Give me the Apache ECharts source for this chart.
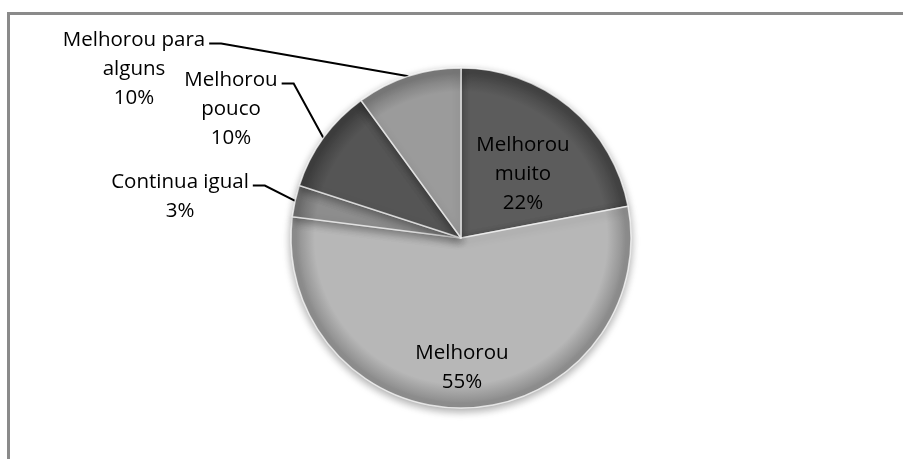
<!DOCTYPE html>
<html>
<head>
<meta charset="utf-8">
<script src="https://cdn.jsdelivr.net/npm/echarts@6/dist/echarts.min.js"></script>
<style>
  html, body { margin: 0; padding: 0; background: #fff; }
  #chart { width: 903px; height: 459px; }
</style>
</head>
<body>
<div id="chart"></div>
<script>
// categories and shares, clockwise from 12 o'clock
const categories = ['Melhorou muito', 'Melhorou', 'Continua igual', 'Melhorou pouco', 'Melhorou para alguns']
const labelTexts = ['Melhorou\nmuito', 'Melhorou', 'Continua igual', 'Melhorou\npouco', 'Melhorou para\nalguns']
const shares = [22, 55, 3, 10, 10]

// look
const sliceColors = ['#5c5c5c', '#b7b7b7', '#8d8d8d', '#555555', '#9b9b9b']
const rimColors = ['#444444', '#8e8e8e', '#6c6c6c', '#3e3e3e', '#7a7a7a']
const insideLabel = [true, true, false, false, false]
// label anchors: center x, top y
const labelAt = [[523, 131], [462, 339], [180, 168], [231, 66], [134, 26]]

const cx = 461
const cy = 238
const r = 170
const lineH = 29

const chart = echarts.init(document.getElementById('chart'))

function sliceFill(i) {
  return new echarts.graphic.RadialGradient(cx, cy, r, [
    { offset: 0, color: sliceColors[i] },
    { offset: 0.86, color: sliceColors[i] },
    { offset: 0.97, color: rimColors[i] },
    { offset: 1, color: rimColors[i] }
  ], true)
}

chart.setOption({
  animation: false,
  graphic: [
    {
      type: 'rect',
      z: -10,
      shape: { x: 8.5, y: 13.5, width: 1000, height: 1000 },
      style: { fill: 'none', stroke: '#8a8a8a', lineWidth: 3 }
    }
  ],
  series: [
    {
      type: 'pie',
      center: [cx, cy],
      radius: [0, r],
      startAngle: 90,
      clockwise: true,
      avoidLabelOverlap: false,
      itemStyle: {
        borderColor: 'rgba(255,255,255,0.7)',
        borderWidth: 1.5,
        shadowBlur: 8,
        shadowOffsetY: 3,
        shadowColor: 'rgba(0,0,0,0.35)'
      },
      label: {
        fontFamily: 'Open Sans',
        fontSize: 20.5,
        lineHeight: lineH,
        color: '#000',
        formatter: (p) => labelTexts[p.dataIndex] + '\n' + p.value + '%'
      },
      labelLine: {
        lineStyle: { color: '#000', width: 2 }
      },
      data: shares.map((v, i) => ({
        name: categories[i],
        value: v,
        itemStyle: { color: sliceFill(i) },
        label: { position: insideLabel[i] ? 'inside' : 'outside' },
        labelLine: { show: !insideLabel[i], length: 20, length2: 12 }
      })),
      labelLayout: (params) => {
        const [x, y] = labelAt[params.dataIndex]
        const out = { x: x, y: y, align: 'center', verticalAlign: 'top' }
        if (!insideLabel[params.dataIndex] && params.labelLinePoints) {
          const p0 = params.labelLinePoints[0]
          const ly = y + lineH / 2 + 3
          const lx = x + params.labelRect.width / 2 + 4
          out.labelLinePoints = [p0, [lx + 12, ly], [lx, ly]]
        }
        return out
      }
    }
  ]
})
</script>
</body>
</html>
